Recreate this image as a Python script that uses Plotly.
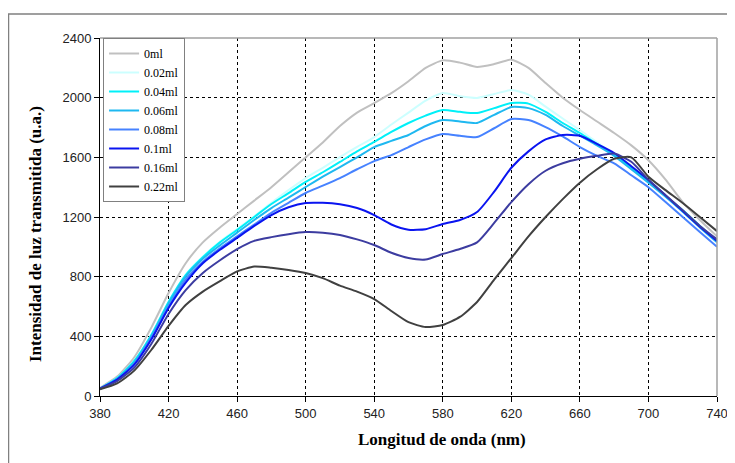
import plotly.graph_objects as go

# Wavelength (nm)
wl = [380, 390, 400, 410, 420, 430, 440, 450, 460, 470, 480, 490, 500, 510, 520,
      530, 540, 550, 560, 570, 580, 590, 600, 610, 620, 630, 640, 650, 660, 670,
      680, 690, 700, 710, 720, 730, 740]

# Transmitted light intensity (a.u.) per added volume
i_0 = [55, 130, 260, 460, 690, 890, 1030, 1130, 1220, 1310, 1400, 1500, 1600, 1700, 1810,
       1900, 1964, 2030, 2110, 2200, 2250, 2235, 2206, 2225, 2255, 2200, 2098, 2000, 1917, 1840,
       1763, 1680, 1580, 1450, 1300, 1180, 1070]
i_002 = [50, 120, 235, 410, 630, 815, 935, 1035, 1120, 1205, 1295, 1380, 1461, 1530, 1602,
         1670, 1736, 1820, 1900, 1980, 2031, 2010, 1998, 2025, 2051, 2020, 1940, 1860, 1783, 1700,
         1620, 1530, 1435, 1340, 1245, 1140, 1040]
i_004 = [50, 120, 235, 410, 630, 810, 930, 1030, 1113, 1200, 1287, 1360, 1435, 1500, 1569,
         1640, 1703, 1770, 1830, 1880, 1917, 1905, 1897, 1930, 1964, 1960, 1904, 1830, 1763, 1690,
         1620, 1530, 1435, 1340, 1245, 1140, 1040]
i_006 = [50, 115, 225, 400, 620, 800, 920, 1010, 1095, 1180, 1260, 1330, 1401, 1470, 1535,
         1600, 1669, 1710, 1750, 1810, 1850, 1840, 1830, 1885, 1937, 1930, 1884, 1810, 1745, 1680,
         1610, 1520, 1430, 1335, 1235, 1130, 1030]
i_008 = [48, 110, 215, 390, 600, 780, 900, 990, 1070, 1150, 1228, 1295, 1361, 1410, 1461,
         1520, 1575, 1615, 1669, 1720, 1756, 1745, 1736, 1795, 1857, 1850, 1803, 1740, 1669, 1610,
         1560, 1480, 1400, 1300, 1200, 1100, 1000]
i_01 = [50, 110, 210, 380, 590, 760, 890, 980, 1060, 1140, 1213, 1265, 1294, 1295, 1285,
        1260, 1213, 1150, 1115, 1118, 1153, 1180, 1233, 1370, 1530, 1640, 1720, 1750, 1745, 1690,
        1629, 1540, 1448, 1345, 1240, 1135, 1040]
i_016 = [50, 100, 190, 350, 550, 710, 825, 910, 985, 1040, 1065, 1085, 1099, 1095, 1080,
         1050, 1012, 960, 925, 915, 952, 985, 1030, 1160, 1300, 1420, 1510, 1560, 1590, 1610,
         1625, 1570, 1450, 1345, 1245, 1140, 1050]
i_022 = [45, 85, 170, 310, 470, 610, 700, 770, 835, 868, 860, 845, 825, 790, 740,
         700, 650, 570, 495, 462, 476, 530, 630, 780, 925, 1070, 1200, 1320, 1430, 1520,
         1590, 1600, 1470, 1380, 1294, 1200, 1105]

names = ["0ml", "0.02ml", "0.04ml", "0.06ml", "0.08ml", "0.1ml", "0.16ml", "0.22ml"]
series = [i_0, i_002, i_004, i_006, i_008, i_01, i_016, i_022]
colors = ["#C0C0C0", "#CCFFFF", "#00F0F8", "#1EB8F0", "#4682FF", "#0A14F0", "#3C3CA0", "#404040"]

fig = go.Figure()
for name, ys, col in zip(names, series, colors):
    fig.add_trace(go.Scatter(x=wl, y=ys, name=name, mode="lines",
                             line=dict(color=col, width=2, shape="spline", smoothing=0.6)))

# the page body has an 8px margin, so page px = figure px + 8
# plot area spans page px 100..717 horizontally and 38..396 vertically
def px(x):
    return (x - 100) / 617

def py(y):
    return (396 - y) / 358

fig.update_layout(
    width=735, height=463,
    margin=dict(l=92, r=26, t=30, b=75),
    paper_bgcolor="white", plot_bgcolor="white",
    font=dict(family="Arial, Liberation Sans", size=13, color="#222222"),
    showlegend=True,
    legend=dict(x=0.005, y=1, xanchor="left", yanchor="top",
                bgcolor="white", bordercolor="#808080", borderwidth=1,
                font=dict(family="Liberation Serif, Times New Roman", size=12, color="black"),
                itemwidth=30, tracegroupgap=0),
    xaxis=dict(range=[380, 740], tickvals=list(range(380, 741, 40)),
               showgrid=True, gridcolor="black", griddash="dot", gridwidth=1,
               showline=True, linecolor="black", linewidth=1,
               ticks="outside", ticklen=5, tickcolor="black", zeroline=False),
    yaxis=dict(range=[0, 2400], tickvals=list(range(0, 2401, 400)),
               showgrid=True, gridcolor="black", griddash="dot", gridwidth=1,
               showline=True, linecolor="black", linewidth=1,
               ticks="outside", ticklen=5, tickcolor="black", zeroline=False),
    shapes=[
        # gray border of plot area (top/right)
        dict(type="line", xref="paper", yref="paper", x0=0, x1=1, y0=1, y1=1,
             line=dict(color="#A0A0A0", width=1.5)),
        dict(type="line", xref="paper", yref="paper", x0=1, x1=1, y0=0, y1=1,
             line=dict(color="#A0A0A0", width=1.5)),
        # outer chart border
        dict(type="rect", xref="paper", yref="paper", x0=px(8.5), x1=px(745), y0=py(475), y1=py(14),
             line=dict(color="#808080", width=1.5), layer="below"),
    ],
    annotations=[
        dict(text="<b>Intensidad de luz transmitida (u.a.)</b>", xref="paper", yref="paper",
             x=px(35), y=py(234), xanchor="center", yanchor="middle",
             textangle=-90, showarrow=False,
             font=dict(family="Liberation Serif, Times New Roman", size=17, color="black")),
        dict(text="<b>Longitud de onda (nm)</b>", xref="paper", yref="paper",
             x=px(442), y=py(439), xanchor="center", yanchor="middle", showarrow=False,
             font=dict(family="Liberation Serif, Times New Roman", size=17, color="black")),
    ],
)

fig.write_html("out.html")
